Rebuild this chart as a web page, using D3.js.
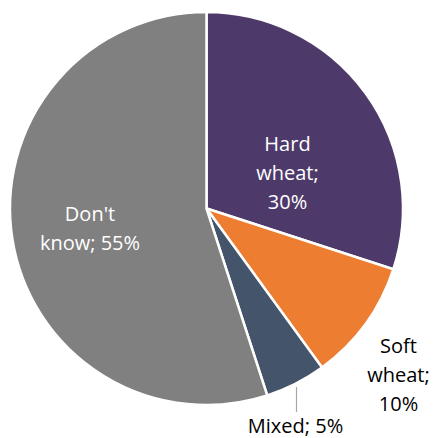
<!DOCTYPE html>
<html>
<head>
<meta charset="utf-8">
<script src="https://cdn.jsdelivr.net/npm/d3@7/dist/d3.min.js"></script>
<style>
  html, body { margin: 0; padding: 0; background: #fff; }
  svg { display: block; }
  text { font-family: "Open Sans", "Noto Sans", sans-serif; font-size: 20px; }
</style>
</head>
<body>
<svg id="chart" width="433" height="438"></svg>
<script>
// Wheat type shares
const categories = ["Hard wheat", "Soft wheat", "Mixed", "Don't know"];
const shares = [30, 10, 5, 55];
const colors = ["#4E3A6A", "#ED7D31", "#44546A", "#808080"];

const cx = 206.5, cy = 208.5, radius = 196.5;

const svg = d3.select("#chart");
const g = svg.append("g").attr("transform", `translate(${cx},${cy})`);

const data = categories.map((c, i) => ({ name: c, value: shares[i], color: colors[i] }));

const pie = d3.pie().value(d => d.value).sort(null);
const arc = d3.arc().innerRadius(0).outerRadius(radius);
const arcs = pie(data);

g.selectAll("path.slice")
  .data(arcs)
  .join("path")
  .attr("class", "slice")
  .attr("d", arc)
  .attr("fill", d => d.data.color)
  .attr("stroke", "#fff")
  .attr("stroke-width", 2.5)
  .attr("stroke-linejoin", "miter");

// Label text: "name; value%" broken over lines, positioned relative to the pie centre
const labelSpecs = [
  { lines: ["Hard", "wheat;", shares[0] + "%"], x: 81, y: -57.5, fill: "#fff" },
  { lines: ["Soft", "wheat;", shares[1] + "%"], x: 192, y: 144.5, fill: "#000" },
  { lines: ["Mixed; " + shares[2] + "%"], x: 89, y: 224.5, fill: "#000" },
  { lines: ["Don't", "know; " + shares[3] + "%"], x: -116.5, y: 12.5, fill: "#fff" }
];
const lineH = 28.8;

labelSpecs.forEach(spec => {
  const t = g.append("text")
    .attr("text-anchor", "middle")
    .attr("fill", spec.fill);
  spec.lines.forEach((ln, j) => {
    t.append("tspan")
      .attr("x", spec.x)
      .attr("y", spec.y + j * lineH)
      .text(ln);
  });
});

// Leader line for the small "Mixed" slice
g.append("line")
  .attr("x1", 90).attr("y1", 178.5)
  .attr("x2", 90).attr("y2", 203.5)
  .attr("stroke", "#A6A6A6")
  .attr("stroke-width", 1.2);
</script>
</body>
</html>
